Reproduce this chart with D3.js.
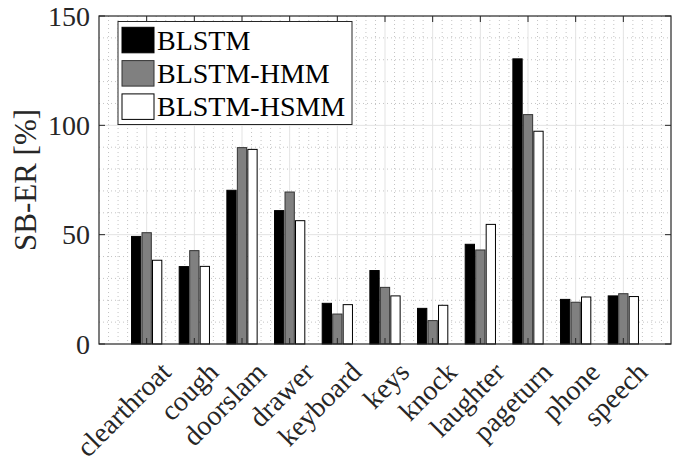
<!DOCTYPE html>
<html><head><meta charset="utf-8">
<script src="https://cdn.jsdelivr.net/npm/d3@7"></script>
<style>body{margin:0;background:#fff}svg{display:block}</style>
</head><body><svg id="c" width="673" height="457"></svg>
<script>
const categories = ["clearthroat","cough","doorslam","drawer","keyboard","keys","knock","laughter","pageturn","phone","speech"];
const seriesNames = ["BLSTM","BLSTM-HMM","BLSTM-HSMM"];
const blstm = [49.2, 35.4, 70.3, 61.0, 18.6, 33.6, 16.3, 45.6, 130.4, 20.4, 22.0];
const blstmHmm = [50.9, 42.7, 89.8, 69.5, 13.7, 25.9, 10.7, 43.0, 104.9, 19.1, 23.0];
const blstmHsmm = [38.3, 35.5, 89.0, 56.4, 18.0, 22.0, 17.7, 54.7, 97.3, 21.5, 21.7];
const yTicks = [0, 50, 100, 150];
const seriesValues = [blstm, blstmHmm, blstmHsmm];
const fills = ["#000000", "#808080", "#ffffff"];
const FONT = "Liberation Serif";

const svg = d3.select("#c");
const L = 99, R = 671, T = 16, B = 344;
const x = d3.scaleLinear().domain([0, categories.length + 1]).range([L, R]);
const y = d3.scaleLinear().domain([0, 150]).range([B, T]);

// minor grid
const g = svg.append("g");
const minorX = d3.range(1, (categories.length + 1) * 5).filter(i => i % 5 !== 0).map(i => i / 5);
g.selectAll(".mx").data(minorX).enter().append("line")
  .attr("x1", d => x(d)).attr("x2", d => x(d)).attr("y1", T).attr("y2", B)
  .attr("stroke", "#c4c4c4").attr("stroke-width", 1).attr("stroke-dasharray", "1,3");
const minorY = d3.range(10, 150, 10).filter(v => v % 50 !== 0);
g.selectAll(".my").data(minorY).enter().append("line")
  .attr("x1", L).attr("x2", R).attr("y1", d => y(d)).attr("y2", d => y(d))
  .attr("stroke", "#c4c4c4").attr("stroke-width", 1).attr("stroke-dasharray", "1,3");
// major grid
g.selectAll(".gx").data(d3.range(1, categories.length + 1)).enter().append("line")
  .attr("x1", d => x(d)).attr("x2", d => x(d)).attr("y1", T).attr("y2", B)
  .attr("stroke", "#e3e3e3").attr("stroke-width", 1);
g.selectAll(".gy").data(yTicks.slice(1, -1)).enter().append("line")
  .attr("x1", L).attr("x2", R).attr("y1", d => y(d)).attr("y2", d => y(d))
  .attr("stroke", "#e3e3e3").attr("stroke-width", 1);

// bars
const off = 0.22, bw = 0.195;
seriesValues.forEach((vals, s) => {
  svg.append("g").selectAll("rect").data(vals).enter().append("rect")
    .attr("x", (d, i) => x(i + 1 + (s - 1) * off - bw / 2))
    .attr("width", x(bw) - x(0))
    .attr("y", d => y(d))
    .attr("height", d => y(0) - y(d))
    .attr("fill", fills[s])
    .attr("stroke", s === 1 ? "#333" : "#000")
    .attr("stroke-width", 1);
});

// axes box and ticks
const ax = svg.append("g").attr("stroke", "#262626").attr("fill", "none");
ax.append("rect").attr("x", L).attr("y", T).attr("width", R - L).attr("height", B - T).attr("stroke-width", 1.2);
const tl = 6;
d3.range(1, categories.length + 1).forEach(i => {
  ax.append("line").attr("x1", x(i)).attr("x2", x(i)).attr("y1", B).attr("y2", B - tl);
  ax.append("line").attr("x1", x(i)).attr("x2", x(i)).attr("y1", T).attr("y2", T + tl);
});
yTicks.forEach(v => {
  ax.append("line").attr("x1", L).attr("x2", L + tl).attr("y1", y(v)).attr("y2", y(v));
  ax.append("line").attr("x1", R).attr("x2", R - tl).attr("y1", y(v)).attr("y2", y(v));
});

// y tick labels
svg.append("g").selectAll("text").data(yTicks).enter().append("text")
  .attr("font-family", FONT).attr("fill", "#262626")
  .attr("x", L - 9).attr("y", d => y(d)).attr("dy", "0.35em")
  .attr("text-anchor", "end").attr("font-size", 28).text(d => d);

// x tick labels
svg.append("g").selectAll("text").data(categories).enter().append("text")
  .attr("font-family", FONT).attr("fill", "#262626")
  .attr("transform", (d, i) => `translate(${x(i + 1) + 12},${B + 16}) rotate(-45)`)
  .attr("text-anchor", "end").attr("dy", "0.7em").attr("font-size", 28).text(d => d);

// y label
svg.append("text").attr("font-family", FONT).attr("fill", "#262626")
  .attr("transform", `translate(36,${(T + B) / 2}) rotate(-90)`)
  .attr("text-anchor", "middle").attr("font-size", 31).text("SB-ER [%]");

// legend
const lg = svg.append("g");
lg.append("rect").attr("x", 118).attr("y", 21.5).attr("width", 234).attr("height", 103)
  .attr("fill", "#fff").attr("stroke", "#262626").attr("stroke-width", 1);
seriesNames.forEach((n, s) => {
  const cy = 40 + s * 33.3;
  lg.append("rect").attr("x", 122).attr("y", cy - 12.7).attr("width", 32).attr("height", 25.5)
    .attr("fill", fills[s]).attr("stroke", s === 1 ? "#333" : "#000").attr("stroke-width", 1);
  lg.append("text").attr("font-family", FONT).attr("fill", "#000")
    .attr("x", 157).attr("y", cy).attr("dy", "0.35em").attr("font-size", 28).text(n);
});
</script></body></html>
